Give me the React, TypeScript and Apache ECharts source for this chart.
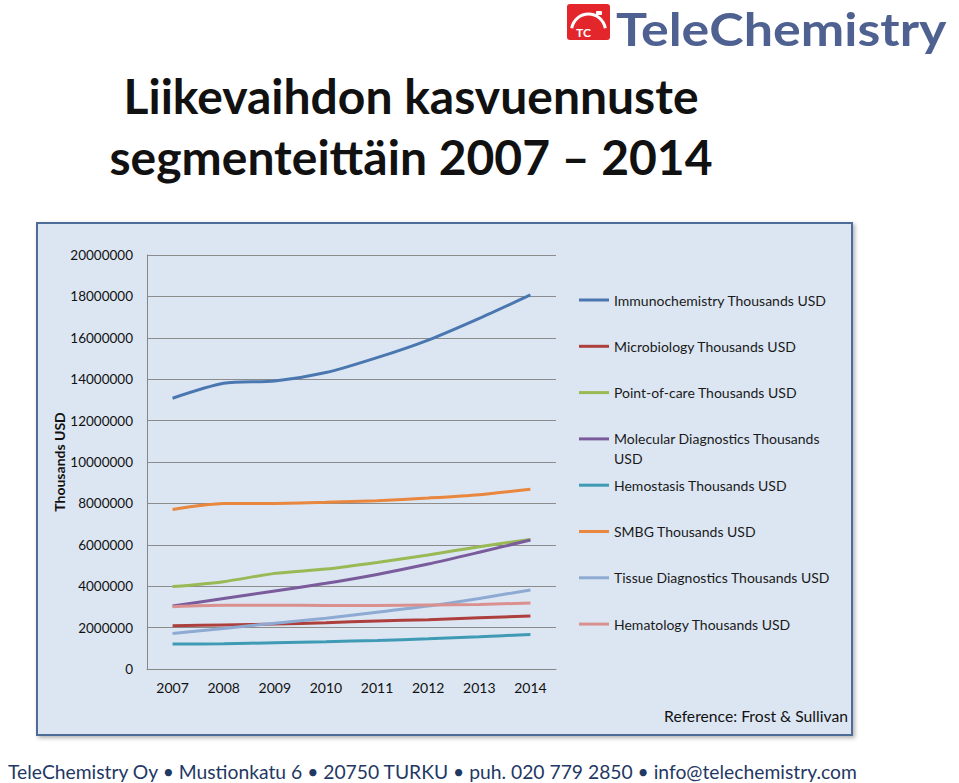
import React, { useEffect, useRef } from "react";
import * as echarts from "echarts";

const years = ["2007", "2008", "2009", "2010", "2011", "2012", "2013", "2014"];

const seriesNames = [
  "Immunochemistry Thousands USD",
  "Microbiology Thousands USD",
  "Point-of-care Thousands USD",
  "Molecular Diagnostics Thousands USD",
  "Hemostasis Thousands USD",
  "SMBG Thousands USD",
  "Tissue Diagnostics Thousands USD",
  "Hematology Thousands USD",
];

const immunochemistry = [13080000, 13800000, 13910000, 14320000, 15040000, 15890000, 16940000, 18070000];
const microbiology = [2090000, 2130000, 2170000, 2240000, 2320000, 2380000, 2480000, 2560000];
const pointOfCare = [3980000, 4220000, 4620000, 4830000, 5150000, 5510000, 5910000, 6260000];
const molecular = [3040000, 3410000, 3770000, 4140000, 4570000, 5070000, 5640000, 6230000];
const hemostasis = [1210000, 1220000, 1270000, 1320000, 1380000, 1460000, 1560000, 1670000];
const smbg = [7710000, 7990000, 8000000, 8050000, 8130000, 8260000, 8420000, 8680000];
const tissue = [1720000, 1960000, 2210000, 2450000, 2740000, 3040000, 3410000, 3820000];
const hematology = [3010000, 3080000, 3080000, 3070000, 3070000, 3090000, 3120000, 3190000];

const seriesValues = [immunochemistry, microbiology, pointOfCare, molecular, hemostasis, smbg, tissue, hematology];
const seriesColors = ["#4a77b0", "#ad403d", "#98b954", "#7a5b9c", "#3f9bb5", "#e8873d", "#8eaad2", "#d9908e"];

const yTicks = { min: 0, max: 20000000, interval: 2000000 };

const FONT = "Lato, 'Open Sans', sans-serif";

export default function App() {
  const ref = useRef<HTMLDivElement>(null);

  useEffect(() => {
    if (!ref.current) return;
    const chart = echarts.init(ref.current, null, { renderer: "svg" });
    const option: any = {
      animation: false,
      textStyle: { fontFamily: FONT },
      grid: { left: 147, top: 255, width: 409, height: 414 },
      xAxis: {
        type: "category",
        data: years,
        boundaryGap: true,
        axisLine: { show: true, lineStyle: { color: "#868686", width: 1 } },
        axisTick: { show: false },
        axisLabel: { color: "#111", fontSize: 14, margin: 11, fontFamily: FONT },
      },
      yAxis: {
        type: "value",
        min: yTicks.min,
        max: yTicks.max,
        interval: yTicks.interval,
        name: "Thousands USD",
        nameLocation: "middle",
        nameGap: 76,
        nameTextStyle: { fontWeight: "bold", fontSize: 14, color: "#111", fontFamily: FONT },
        axisLine: { show: true, lineStyle: { color: "#868686", width: 1 } },
        axisTick: { show: false },
        splitLine: { show: true, lineStyle: { color: "#8c8c8c", width: 1 } },
        axisLabel: {
          color: "#111",
          fontSize: 13.5,
          margin: 14,
          fontFamily: FONT,
          formatter: (v: number) => String(v),
        },
      },
      legend: {
        orient: "vertical",
        left: 579,
        top: 292,
        padding: 0,
        itemWidth: 30,
        itemHeight: 3,
        itemGap: 30.3,
        icon: "rect",
        data: seriesNames,
        formatter: (n: string) => (n === "Molecular Diagnostics Thousands USD" ? "Molecular Diagnostics Thousands" : n),
        textStyle: { fontSize: 14, color: "#1a1a1a", lineHeight: 16, fontFamily: FONT },
        selectedMode: false,
      },
      series: seriesNames.map((name, i) => ({
        name,
        type: "line",
        data: seriesValues[i],
        smooth: 0.25,
        showSymbol: false,
        symbol: "none",
        color: seriesColors[i],
        lineStyle: { width: 3, color: seriesColors[i] },
        z: 3,
      })),
      graphic: [
        {
          type: "rect",
          z: -100,
          shape: { x: 37, y: 223, width: 815, height: 512 },
          style: {
            fill: "#dce6f2",
            stroke: "#4d6c98",
            lineWidth: 2,
            shadowBlur: 4,
            shadowOffsetX: 2,
            shadowOffsetY: 2,
            shadowColor: "rgba(0,0,0,0.3)",
          },
        },
        {
          type: "text",
          x: 614,
          y: 458,
          style: { text: "USD", fontSize: 14, fill: "#1a1a1a", fontFamily: FONT, verticalAlign: "middle" },
        },
        {
          type: "text",
          x: 411,
          y: 95,
          style: {
            text: "Liikevaihdon kasvuennuste",
            fontSize: 48,
            fontWeight: "bold",
            fill: "#111",
            fontFamily: FONT,
            align: "center",
            verticalAlign: "middle",
          },
        },
        {
          type: "text",
          x: 411,
          y: 156,
          style: {
            text: "segmenteittäin 2007 – 2014",
            fontSize: 48,
            fontWeight: "bold",
            fill: "#111",
            fontFamily: FONT,
            align: "center",
            verticalAlign: "middle",
          },
        },
        {
          type: "text",
          x: 848,
          y: 716,
          style: {
            text: "Reference: Frost & Sullivan",
            fontSize: 15.7,
            fill: "#111",
            fontFamily: FONT,
            align: "right",
            verticalAlign: "middle",
          },
        },
        {
          type: "text",
          x: 8,
          y: 771,
          style: {
            text: "TeleChemistry Oy • Mustionkatu 6 • 20750 TURKU • puh. 020 779 2850 • info@telechemistry.com",
            fontSize: 19.3,
            fill: "#1f3864",
            fontFamily: FONT,
            align: "left",
            verticalAlign: "middle",
          },
        },
        {
          type: "rect",
          shape: { x: 567, y: 4, width: 43, height: 36, r: 3 },
          style: { fill: "#e2262b" },
        },
        {
          type: "arc",
          shape: { cx: 588.5, cy: 31, r: 17, startAngle: Math.PI * 1.05, endAngle: Math.PI * 1.95, clockwise: true },
          style: { stroke: "#fff", lineWidth: 3, fill: "none" },
        },
        {
          type: "rect",
          shape: { x: 596, y: 11, width: 6, height: 4, r: 1 },
          style: { fill: "#fff" },
        },
        {
          type: "text",
          x: 576,
          y: 32,
          style: { text: "TC", fontSize: 12, fontWeight: "bold", fill: "#fff", fontFamily: FONT, verticalAlign: "middle" },
        },
        {
          type: "text",
          x: 616,
          y: 28.5,
          scaleX: 1.13,
          style: {
            text: "TeleChemistry",
            fontSize: 46,
            fontWeight: "bold",
            fill: "#4e6190",
            fontFamily: FONT,
            verticalAlign: "middle",
          },
        },
      ],
    };
    chart.setOption(option);
    return () => chart.dispose();
  }, []);

  return (
    <div
      ref={ref}
      style={{ position: "fixed", left: 0, top: 0, width: 959, height: 783, background: "#fff" }}
    />
  );
}
